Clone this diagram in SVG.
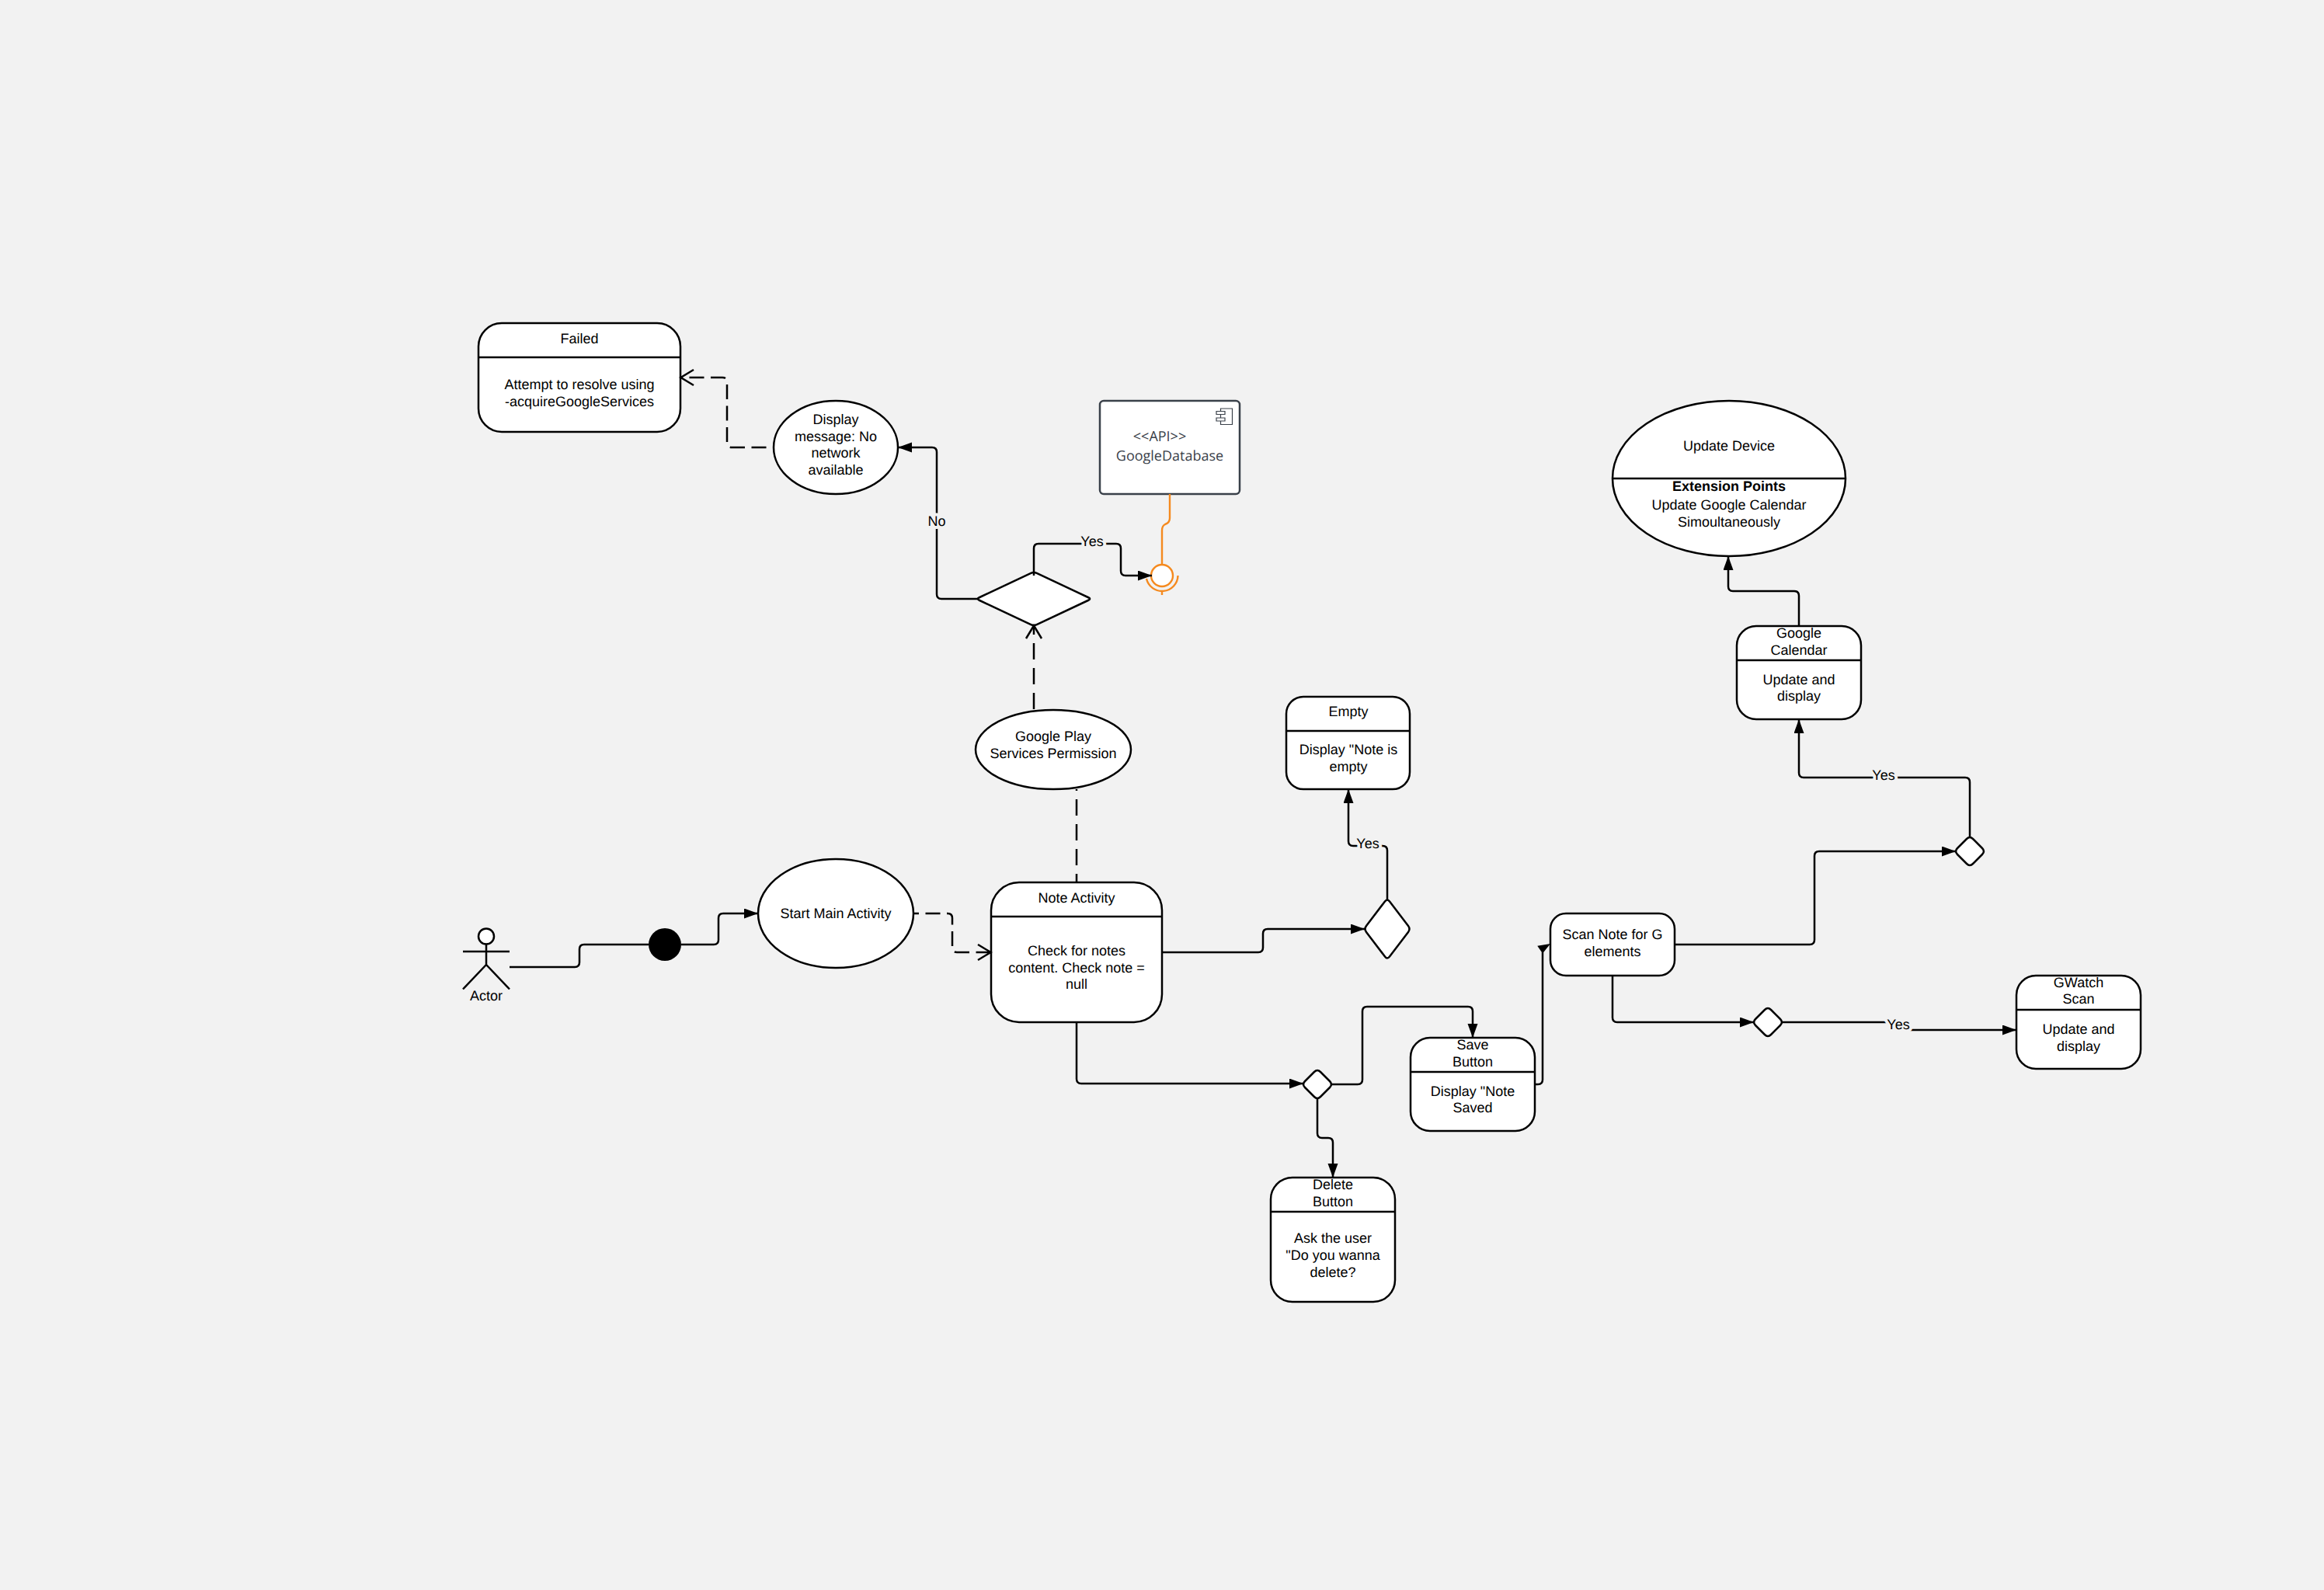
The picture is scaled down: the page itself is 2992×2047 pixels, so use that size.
<svg xmlns="http://www.w3.org/2000/svg" width="2992" height="2047" viewBox="0 0 2992 2047">
<style>
text{font-family:"Liberation Sans",Arial,sans-serif;font-size:18px;fill:#000;text-anchor:middle;text-rendering:geometricPrecision}
.s{fill:#fff;stroke:#000;stroke-width:2.5;stroke-linejoin:round}
.l{fill:none;stroke:#000;stroke-width:2.5}
.c{fill:none;stroke:#000;stroke-width:2.5}
.d{stroke-dasharray:19 8.5}
.dl{stroke-dasharray:21 11}
.o{fill:none;stroke:#f58a1f;stroke-width:2.4}
.lb{paint-order:stroke;stroke:#f2f2f2;stroke-width:8px;stroke-linejoin:round}
.g{font-family:"Open Sans",sans-serif;fill:#3a414a}
</style>
<defs>
<marker id="a" markerUnits="userSpaceOnUse" markerWidth="19" markerHeight="15" refX="18" refY="6.5" orient="auto"><path d="M0 0L18 6.5L0 13Z" fill="#000"/></marker>
<marker id="v" markerUnits="userSpaceOnUse" markerWidth="22" markerHeight="26" refX="19" refY="12" orient="auto"><path d="M2 2L18.5 12L2 22" fill="none" stroke="#000" stroke-width="2.5"/></marker>
</defs>
<rect width="2992" height="2047" fill="#f2f2f2"/>
<g id="actor">
<circle cx="626" cy="1205.5" r="10" fill="#fff" stroke="#000" stroke-width="2.5"/>
<path class="l" d="M626 1215.5V1242M596 1225H656M596 1273.5L626 1242L656 1273.5"/>
<text x="626" y="1288">Actor</text>
</g>
<g id="start-dot"><circle cx="856" cy="1216" r="21" fill="#000"/></g>
<g id="start-main"><ellipse class="s" cx="1076" cy="1176" rx="100" ry="70"/><text x="1076" y="1182">Start Main Activity</text></g>
<g id="note-activity"><rect class="s" x="1276" y="1136" width="220" height="180" rx="36"/><path class="l" d="M1276 1180H1496"/><text x="1386" y="1162">Note Activity</text><text x="1386" y="1230">Check for notes</text><text x="1386" y="1252">content. Check note =</text><text x="1386" y="1273">null</text></g>
<g id="google-play"><ellipse class="s" cx="1356" cy="965" rx="100" ry="51"/><text x="1356" y="954">Google Play</text><text x="1356" y="976">Services Permission</text></g>
<g id="decision-network"><path class="s" transform="translate(1331 771)" d="M-3.7 -33.2Q0 -35 3.7 -33.2L70.3 -1.75Q74 0 70.3 1.75L3.7 33.2Q0 35 -3.7 33.2L-70.3 1.75Q-74 0 -70.3 -1.75Z"/></g>
<g id="display-message"><ellipse class="s" cx="1076" cy="576" rx="80" ry="60"/><text x="1076" y="546">Display</text><text x="1076" y="568">message: No</text><text x="1076" y="589">network</text><text x="1076" y="611">available</text></g>
<g id="failed"><rect class="s" x="616" y="416" width="260" height="140" rx="30"/><path class="l" d="M616 460H876"/><text x="746" y="442">Failed</text><text x="746" y="501">Attempt to resolve using</text><text x="746" y="523">-acquireGoogleServices</text></g>
<g id="google-database"><rect x="1416" y="516" width="180" height="120" rx="5" fill="#fff" stroke="#3a414a" stroke-width="2.5"/><path d="M1571.5 529V526H1586.5V546.5H1571.5V542M1571.5 533V538M1566 529.5H1577V533.5H1566ZM1566 538H1577V542H1566Z" fill="none" stroke="#3a414a" stroke-width="1.2"/><text class="g" x="1493" y="568">&lt;&lt;API&gt;&gt;</text><text class="g" x="1506" y="593">GoogleDatabase</text></g>
<g id="interface"><path class="o" d="M1476 745A20.5 20.5 0 0 0 1516.5 741M1496 761.5V766"/><circle cx="1496" cy="741" r="14" fill="#fff" stroke="#f58a1f" stroke-width="2.4"/></g>
<g id="decision-empty"><path class="s" transform="translate(1786 1196)" d="M-3 -35.5Q0 -39.5 3 -35.5L27 -4Q30 0 27 4L3 35.5Q0 39.5 -3 35.5L-27 4Q-30 0 -27 -4Z"/></g>
<g id="empty"><rect class="s" x="1656" y="897" width="159" height="119" rx="22"/><path class="l" d="M1656 941H1815"/><text x="1736" y="922">Empty</text><text x="1736" y="971">Display "Note is</text><text x="1736" y="993">empty</text></g>
<g id="decision-buttons"><path class="s" transform="translate(1696 1396)" d="M-4 -16Q0 -20 4 -16L16 -4Q20 0 16 4L4 16Q0 20 -4 16L-16 4Q-20 0 -16 -4Z"/></g>
<g id="save-button"><rect class="s" x="1816" y="1336" width="160" height="120" rx="25"/><path class="l" d="M1816 1380H1976"/><text x="1896" y="1351">Save</text><text x="1896" y="1373">Button</text><text x="1896" y="1411">Display "Note</text><text x="1896" y="1432">Saved</text></g>
<g id="delete-button"><rect class="s" x="1636" y="1516" width="160" height="160" rx="28"/><path class="l" d="M1636 1560H1796"/><text x="1716" y="1531">Delete</text><text x="1716" y="1553">Button</text><text x="1716" y="1600">Ask the user</text><text x="1716" y="1622">"Do you wanna</text><text x="1716" y="1644">delete?</text></g>
<g id="scan-note"><rect class="s" x="1996" y="1176" width="160" height="80" rx="20"/><text x="2076" y="1209">Scan Note for G</text><text x="2076" y="1231">elements</text></g>
<g id="decision-gwatch"><path class="s" transform="translate(2276 1316)" d="M-4 -16Q0 -20 4 -16L16 -4Q20 0 16 4L4 16Q0 20 -4 16L-16 4Q-20 0 -16 -4Z"/></g>
<g id="gwatch"><rect class="s" x="2596" y="1256" width="160" height="120" rx="25"/><path class="l" d="M2596 1300H2756"/><text x="2676" y="1271">GWatch</text><text x="2676" y="1292">Scan</text><text x="2676" y="1331">Update and</text><text x="2676" y="1353">display</text></g>
<g id="decision-calendar"><path class="s" transform="translate(2536 1096)" d="M-4 -16Q0 -20 4 -16L16 -4Q20 0 16 4L4 16Q0 20 -4 16L-16 4Q-20 0 -16 -4Z"/></g>
<g id="google-calendar"><rect class="s" x="2236" y="806" width="160" height="120" rx="25"/><path class="l" d="M2236 850H2396"/><text x="2316" y="821">Google</text><text x="2316" y="843">Calendar</text><text x="2316" y="881">Update and</text><text x="2316" y="902">display</text></g>
<g id="update-device"><ellipse class="s" cx="2226" cy="616" rx="150" ry="100"/><path class="l" d="M2076 616H2376"/><text x="2226" y="580">Update Device</text><text x="2226" y="632" font-weight="bold">Extension Points</text><text x="2226" y="656">Update Google Calendar</text><text x="2226" y="678">Simoultaneously</text></g>
<g id="connectors">
<path class="c" d="M656 1245H740Q746 1245 746 1239V1222Q746 1216 752 1216H835M877 1216H919Q925 1216 925 1210V1182Q925 1176 931 1176H976" marker-end="url(#a)"/>
<path class="c d" stroke-dashoffset="12" d="M1176 1176H1220Q1226 1176 1226 1182V1220Q1226 1226 1232 1226H1276" marker-end="url(#v)"/>
<path class="c dl" stroke-dashoffset="19" d="M1386 1016V1136"/>
<path class="c dl" d="M1331 913V805" marker-end="url(#v)"/>
<path class="c" d="M1258 771H1212Q1206 771 1206 765V582Q1206 576 1200 576H1156" marker-end="url(#a)"/>
<path class="c d" stroke-dashoffset="18" d="M996 576H942Q936 576 936 570V492Q936 486 930 486H876" marker-end="url(#v)"/>
<path class="c" d="M1331 741V706Q1331 700 1337 700H1437Q1443 700 1443 706V735Q1443 741 1449 741H1483" marker-end="url(#a)"/>
<path class="c" d="M1496 1226H1620Q1626 1226 1626 1220V1202Q1626 1196 1632 1196H1757" marker-end="url(#a)"/>
<path class="c" d="M1786 1158V1095Q1786 1089 1780 1089H1742Q1736 1089 1736 1083V1016" marker-end="url(#a)"/>
<path class="c" d="M1386 1316V1389Q1386 1395 1392 1395H1678" marker-end="url(#a)"/>
<path class="c" d="M1714 1396H1748Q1754 1396 1754 1390V1302Q1754 1296 1760 1296H1890Q1896 1296 1896 1302V1336" marker-end="url(#a)"/>
<path class="c" d="M1696 1414V1459Q1696 1465 1702 1465H1710Q1716 1465 1716 1471V1516" marker-end="url(#a)"/>
<path class="c" d="M1976 1396H1980Q1986 1396 1986 1390V1226"/>
<path d="M1979.3 1217.7L1996 1215L1986 1227.5Z" fill="#000"/>
<path class="c" d="M2156 1216H2330Q2336 1216 2336 1210V1102Q2336 1096 2342 1096H2518" marker-end="url(#a)"/>
<path class="c" d="M2536 1078V1007Q2536 1001 2530 1001H2322Q2316 1001 2316 995V926" marker-end="url(#a)"/>
<path class="c" d="M2316 806V767Q2316 761 2310 761H2231Q2225 761 2225 755V716" marker-end="url(#a)"/>
<path class="c" d="M2076 1256V1310Q2076 1316 2082 1316H2258" marker-end="url(#a)"/>
<path class="c" d="M2294 1316H2444V1326H2596" marker-end="url(#a)"/>
<path class="o" d="M1506 636V667Q1506 673 1500 675Q1496 677 1496 683V727"/>
<text class="lb" x="1206" y="677">No</text>
<text class="lb" x="1406" y="703">Yes</text>
<text class="lb" x="1761" y="1092">Yes</text>
<text class="lb" x="2425" y="1004">Yes</text>
<text class="lb" x="2444" y="1325">Yes</text>
</g>
</svg>
